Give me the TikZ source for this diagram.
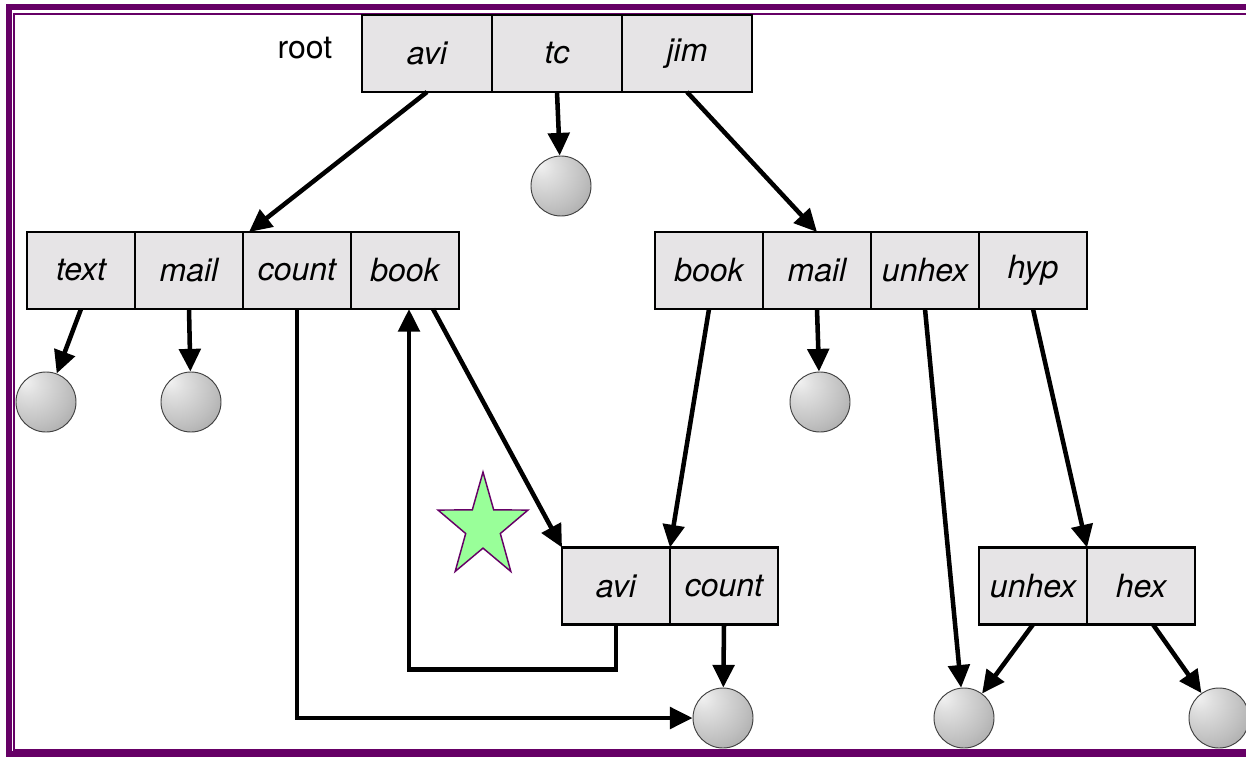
\documentclass[tikz,border=0pt]{standalone}
\usepackage{fontspec}
\setmainfont{TeX Gyre Heros}
\usetikzlibrary{positioning,arrows.meta,shapes.geometric,calc}
\definecolor{cellgray}{RGB}{230,228,230}
\definecolor{framepurple}{RGB}{102,0,102}
\definecolor{stargreen}{RGB}{153,255,153}
\pgfdeclareradialshading{filesphere}{\pgfpoint{-18bp}{18bp}}{color(0bp)=(gray!10); color(10bp)=(gray!25); color(30bp)=(gray!50); color(50bp)=(gray!80); color(75bp)=(gray)}

\begin{document}
\begin{tikzpicture}[x=0.75pt, y=-0.75pt, ->, >={Triangle[length=17pt,width=16pt]}, line width=3.4pt,
  cell/.style={rectangle, draw, line width=2.2pt, fill=cellgray, minimum width=81pt, minimum height=57.75pt, inner sep=0pt, outer sep=0pt, font=\fontsize{24}{28}\selectfont\itshape},
  widecell/.style={cell, minimum width=97.5pt},
  ball/.style={circle, draw=black!75, line width=0.7pt, shading=filesphere, minimum size=45pt, inner sep=0pt}]

  \useasboundingbox (0,0) rectangle (1246,757);

  % frame
  \draw[-, framepurple, line width=3.8pt] (1246,7) -- (9,7) -- (9,754) -- (1246,754);
  \draw[-, framepurple, line width=1.4pt] (1246,14) -- (14,14) -- (14,750) -- (1246,750);

  % root directory
  \node[widecell] (ravi) at (427,53.5) {avi};
  \node[widecell] (rtc) [right=0pt of ravi] {tc};
  \node[widecell] (rjim) [right=0pt of rtc] {jim};
  \node[font=\fontsize{24}{28}\selectfont, inner sep=0pt] (rootlbl) at (305,48) {root};

  % second level
  \node[cell] (ltext) at (81,270.5) {text};
  \node[cell] (lmail) [right=0pt of ltext] {mail};
  \node[cell] (lcount) [right=0pt of lmail] {count};
  \node[cell] (lbook) [right=0pt of lcount] {book};

  \node[cell] (rbook) at (709,270.5) {book};
  \node[cell] (rmail) [right=0pt of rbook] {mail};
  \node[cell] (runhex) [right=0pt of rmail] {unhex};
  \node[cell] (rhyp) [right=0pt of runhex] {hyp};

  % third level
  \node[cell] (bavi) at (616,586) {avi};
  \node[cell] (bcount) [right=0pt of bavi] {count};
  \node[cell] (hunhex) at (1033,586) {unhex};
  \node[cell] (hhex) [right=0pt of hunhex] {hex};

  % files
  \node[ball] (tcball) at (561,186) {};
  \node[ball] (textball) at (46,402) {};
  \node[ball] (mailball) at (191,402) {};
  \node[ball] (rmailball) at (820,402) {};
  \node[ball] (cball) at (723,718) {};
  \node[ball] (uball) at (964,718) {};
  \node[ball] (hball) at (1219,718) {};

  \node[star, star points=5, star point ratio=2.6, draw=framepurple, line width=1.1pt, fill=stargreen, minimum size=71pt, inner sep=0pt, yscale=1.16, transform shape] (mark) at (483,527) {};

  \path
    (ravi.south) edge ($(lcount.north west)+(6,0)$)
    (rtc.south) edge (tcball)
    (rjim.south) edge (rmail.north)
    (ltext.south) edge (textball)
    (lmail.south) edge (mailball)
    ($(lbook.south)+(28,0)$) edge (bavi.north west)
    (rbook.south) edge (bavi.north east)
    (rmail.south) edge (rmailball)
    (runhex.south) edge (uball)
    (rhyp.south) edge (hunhex.north east)
    (bcount.south) edge (cball)
    (hunhex.south) edge (uball)
    ($(hhex.south)+(12,0)$) edge (hball)
  ;
  \draw (lcount.south) |- (cball);
  \draw (bavi.south) -- ++(0,45) -| ($(lbook.south)+(4,0)$);
\end{tikzpicture}
\end{document}
